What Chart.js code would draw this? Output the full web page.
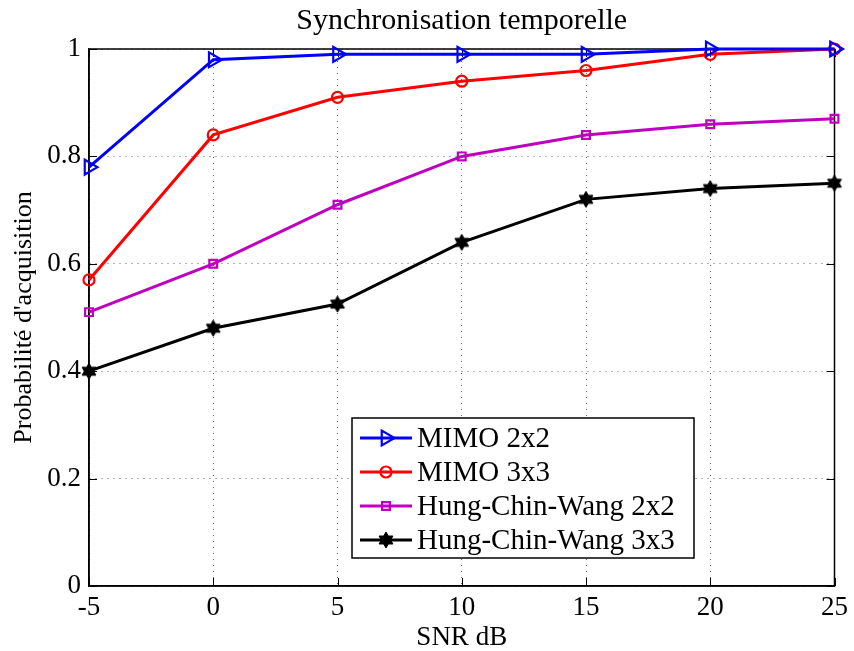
<!DOCTYPE html>
<html>
<head>
<meta charset="utf-8">
<script src="https://cdn.jsdelivr.net/npm/chart.js@4/dist/chart.umd.min.js"></script>
<style>
  html, body { margin: 0; padding: 0; background: #ffffff; }
  #wrap { width: 854px; height: 651px; }
</style>
</head>
<body>
<div id="wrap"><canvas id="c" width="854" height="651"></canvas></div>
<script>
// ---- Data ----
const snr = [-5, 0, 5, 10, 15, 20, 25];
const mimo2x2 = [0.78, 0.98, 0.99, 0.99, 0.99, 1.00, 1.00];
const mimo3x3 = [0.57, 0.84, 0.91, 0.94, 0.96, 0.99, 1.00];
const hcw2x2  = [0.51, 0.60, 0.71, 0.80, 0.84, 0.86, 0.87];
const hcw3x3  = [0.40, 0.48, 0.525, 0.64, 0.72, 0.74, 0.75];
const seriesLabels = ['MIMO 2x2', 'MIMO 3x3', 'Hung-Chin-Wang 2x2', 'Hung-Chin-Wang 3x3'];
const xTicks = [-5, 0, 5, 10, 15, 20, 25];
const yTicks = [0, 0.2, 0.4, 0.6, 0.8, 1];
const titleText = 'Synchronisation temporelle';
const xTitle = 'SNR dB';
const yTitle = "Probabilité d'acquisition";

const FONT = "'Liberation Serif', 'Times New Roman', serif";

// hexagram marker
function makeHexagram(R, color) {
  const s = Math.ceil(R * 2 + 2);
  const cv = document.createElement('canvas');
  cv.width = s; cv.height = s;
  const c = cv.getContext('2d');
  const cx = s / 2, cy = s / 2, r = R / Math.sqrt(3);
  c.beginPath();
  for (let i = 0; i < 12; i++) {
    const ang = -Math.PI / 2 + i * Math.PI / 6;
    const rr = (i % 2 === 0) ? R : r;
    const px = cx + rr * Math.cos(ang), py = cy + rr * Math.sin(ang);
    if (i === 0) c.moveTo(px, py); else c.lineTo(px, py);
  }
  c.closePath();
  c.fillStyle = color; c.fill();
  c.strokeStyle = color; c.lineWidth = 1; c.stroke();
  return cv;
}
const hexStar = makeHexagram(8, '#000000');

function toXY(ys) { return snr.map((x, i) => ({ x: x, y: ys[i] })); }

function ds(label, data, color, style, radius, rotation) {
  return {
    label: label,
    data: toXY(data),
    borderColor: color,
    backgroundColor: color,
    borderWidth: 3,
    pointStyle: style,
    pointRadius: radius,
    pointHoverRadius: radius,
    pointBorderWidth: 2.2,
    pointBorderColor: color,
    pointBackgroundColor: 'rgba(255,255,255,0)',
    pointRotation: rotation || 0,
    tension: 0,
    clip: false
  };
}

const datasets = [
  ds(seriesLabels[0], mimo2x2, '#0000ff', 'triangle', 8.5, 90),
  ds(seriesLabels[1], mimo3x3, '#ff0000', 'circle', 5.5),
  ds(seriesLabels[2], hcw2x2, '#bf00bf', 'rect', 5.5),
  ds(seriesLabels[3], hcw3x3, '#000000', hexStar, 8)
];

// box + inward ticks
const boxPlugin = {
  id: 'box',
  beforeDatasetsDraw(chart) {
    const { ctx, chartArea: a, scales } = chart;
    ctx.save();
    ctx.strokeStyle = '#000';
    ctx.lineWidth = 1.5;
    ctx.strokeRect(a.left, a.top, a.right - a.left, a.bottom - a.top);
    ctx.lineWidth = 1;
    const L = 8;
    ctx.beginPath();
    xTicks.forEach(v => {
      const px = Math.round(scales.x.getPixelForValue(v)) + 0.5;
      ctx.moveTo(px, a.bottom); ctx.lineTo(px, a.bottom - L);
      ctx.moveTo(px, a.top); ctx.lineTo(px, a.top + L);
    });
    yTicks.forEach(v => {
      const py = Math.round(scales.y.getPixelForValue(v)) + 0.5;
      ctx.moveTo(a.left, py); ctx.lineTo(a.left + L, py);
      ctx.moveTo(a.right, py); ctx.lineTo(a.right - L, py);
    });
    ctx.stroke();
    ctx.restore();
  }
};

// legend drawn inside plot area
const legendBox = { left: 352, top: 418, right: 694, bottom: 558, row0: 438, rowStep: 34, lineX0: 360, lineX1: 412, textX: 417 };
const insideLegend = {
  id: 'insideLegend',
  afterDraw(chart) {
    const { ctx } = chart;
    const b = legendBox;
    ctx.save();
    ctx.fillStyle = '#fff';
    ctx.fillRect(b.left, b.top, b.right - b.left, b.bottom - b.top);
    ctx.strokeStyle = '#000';
    ctx.lineWidth = 1.5;
    ctx.strokeRect(b.left, b.top, b.right - b.left, b.bottom - b.top);
    chart.data.datasets.forEach((d, i) => {
      const y = b.row0 + i * b.rowStep;
      ctx.strokeStyle = d.borderColor;
      ctx.lineWidth = d.borderWidth;
      ctx.beginPath(); ctx.moveTo(b.lineX0, y); ctx.lineTo(b.lineX1, y); ctx.stroke();
      const mx = (b.lineX0 + b.lineX1) / 2;
      ctx.fillStyle = d.pointBackgroundColor;
      ctx.strokeStyle = d.pointBorderColor;
      ctx.lineWidth = d.pointBorderWidth;
      Chart.helpers.drawPoint(ctx, { pointStyle: d.pointStyle, rotation: d.pointRotation, radius: d.pointRadius, borderWidth: d.pointBorderWidth }, mx, y);
      ctx.fillStyle = '#000';
      ctx.font = '29px ' + FONT;
      ctx.textBaseline = 'middle';
      ctx.textAlign = 'left';
      ctx.fillText(d.label, b.textX, y + 1);
    });
    ctx.restore();
  }
};

new Chart(document.getElementById('c'), {
  type: 'line',
  data: { datasets: datasets },
  options: {
    responsive: false,
    animation: false,
    events: [],
    layout: { padding: { left: 0, right: 15, top: 0, bottom: 0 } },
    plugins: {
      legend: { display: false },
      tooltip: { enabled: false },
      title: { display: false }
    },
    scales: {
      x: {
        type: 'linear',
        min: -5, max: 25,
        afterBuildTicks(s) { s.ticks = xTicks.map(v => ({ value: v })); },
        afterFit(s) { s.height = 65; },
        ticks: {
          color: '#000',
          padding: 6,
          font: { family: FONT, size: 27 },
          maxRotation: 0,
          callback: v => String(v)
        },
        grid: { drawTicks: false, color: '#666', lineWidth: 1 },
        border: { display: true, color: '#000', width: 1.5, dash: [1, 5] },
        title: {
          display: true, text: xTitle, color: '#000',
          font: { family: FONT, size: 27, lineHeight: 1 },
          padding: { top: 1, bottom: 0 }
        }
      },
      xTop: {
        type: 'linear',
        position: 'top',
        min: -5, max: 25,
        afterFit(s) { s.height = 49; },
        ticks: { display: false },
        grid: { display: false, drawTicks: false },
        border: { display: false },
        title: {
          display: true, text: titleText, color: '#000',
          font: { family: FONT, size: 30, lineHeight: 1 },
          padding: { top: 6, bottom: 0 }
        }
      },
      y: {
        type: 'linear',
        min: 0, max: 1,
        afterBuildTicks(s) { s.ticks = yTicks.map(v => ({ value: v })); },
        afterFit(s) { s.width = 89; },
        ticks: {
          color: '#000',
          padding: 8,
          font: { family: FONT, size: 27 },
          callback: v => String(Number(v.toFixed(1)))
        },
        grid: { drawTicks: false, color: '#666', lineWidth: 1 },
        border: { display: true, color: '#000', width: 1.5, dash: [1, 5] },
        title: {
          display: true, text: yTitle, color: '#000',
          font: { family: FONT, size: 26, lineHeight: 1.2 },
          padding: { top: 9, bottom: 0 }
        }
      }
    }
  },
  plugins: [boxPlugin, insideLegend]
});
</script>
</body>
</html>
